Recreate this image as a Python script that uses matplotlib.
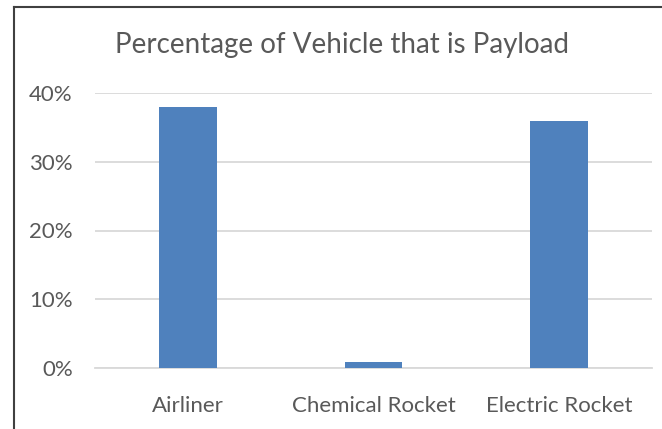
import matplotlib
matplotlib.use("Agg")
import matplotlib.pyplot as plt
from matplotlib.lines import Line2D
from matplotlib.ticker import FuncFormatter

# --- data ---
categories = ["Airliner", "Chemical Rocket", "Electric Rocket"]
payload_share = [0.38, 0.009, 0.36]
yticks = [0.0, 0.1, 0.2, 0.3, 0.4]

text_color = "#595959"
bar_color = "#4f81bd"

plt.rcParams["font.family"] = ["Lato", "DejaVu Sans"]

fig = plt.figure(figsize=(6.62, 4.29), dpi=100)
ax = fig.add_axes([95 / 662, 1 - 368 / 429, 557 / 662, 275 / 429])

x = range(len(categories))
ax.bar(x, payload_share, width=0.31, color=bar_color, zorder=3)

ax.set_xlim(-0.5, len(categories) - 0.5)
ax.set_ylim(0, 0.4)
ax.set_yticks(yticks)
ax.yaxis.set_major_formatter(FuncFormatter(lambda v, p: f"{v * 100:.0f}%"))
ax.set_xticks(list(x))
ax.set_xticklabels(categories)

ax.grid(axis="y", color="#d9d9d9", linewidth=1.3, zorder=0)
for s in ["top", "right", "left"]:
    ax.spines[s].set_visible(False)
ax.spines["bottom"].set_color("#d9d9d9")
ax.spines["bottom"].set_linewidth(1.3)
ax.tick_params(axis="both", length=0, labelsize=16, colors=text_color)
ax.tick_params(axis="y", pad=16)
ax.tick_params(axis="x", pad=20)

fig.text(342 / 662, 1 - 45 / 429, "Percentage of Vehicle that is Payload",
         ha="center", va="center", fontsize=20, color=text_color)

# outer chart border (left and top edges only visible)
fig.add_artist(Line2D([14 / 662, 14 / 662], [0, 1 - 7 / 429], transform=fig.transFigure,
                      color="#404040", linewidth=1.5))
fig.add_artist(Line2D([14 / 662, 1], [1 - 7 / 429, 1 - 7 / 429], transform=fig.transFigure,
                      color="#404040", linewidth=1.5))

fig.savefig("out.png", dpi=100)
